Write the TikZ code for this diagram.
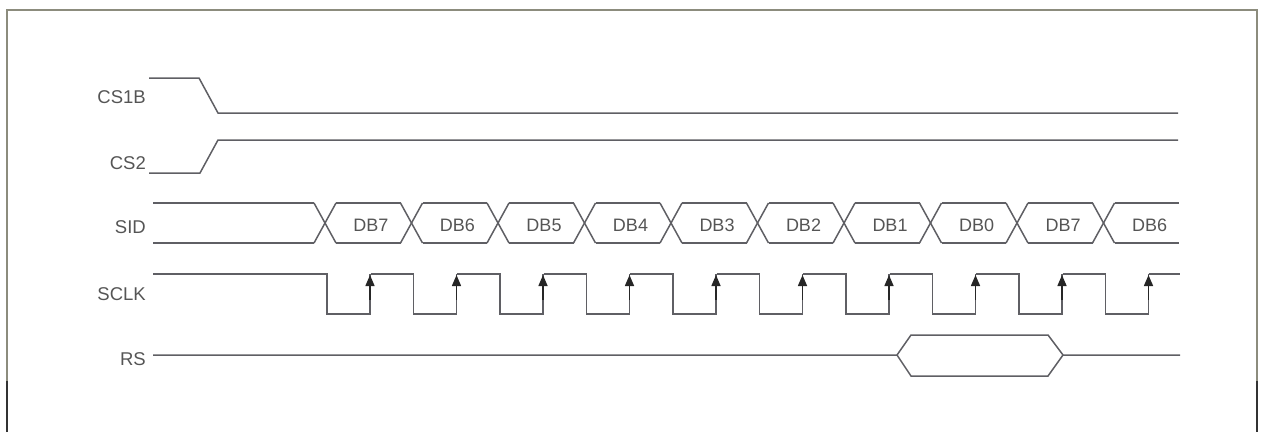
\documentclass[tikz,border=0pt]{standalone}
\usepackage{fontspec}
\setmainfont{Liberation Sans}
\usetikzlibrary{arrows.meta}
\definecolor{sig}{RGB}{95,95,100}
\definecolor{txt}{RGB}{85,85,85}
\definecolor{rahmen}{RGB}{140,140,125}
\tikzset{
	signal/.style={sig, line width=1.5pt, line join=miter},
	signame/.style={anchor=east, text=txt, font=\fontsize{18.5}{18.5}\selectfont, inner sep=0pt},
	bitlabel/.style={text=txt, font=\fontsize{18}{18}\selectfont, inner sep=0pt},
	flanke/.style={-{Triangle[length=11pt,width=9pt]}, black!85}
}

\begin{document}
\begin{tikzpicture}[x=1pt,y=-1pt]
\useasboundingbox (0,0) rectangle (1261,432);
% rahmen
\draw[rahmen, line width=2pt] (7,432) -- (7,10) -- (1257,10) -- (1257,432);
\draw[black!80, line width=2pt] (7,381) -- (7,432);
\draw[black!80, line width=2pt] (1257,381) -- (1257,432);
% namen
\node[signame] (cs1b) at (146,97) {CS1B};
\node[signame] (cs2) at (146,163) {CS2};
\node[signame] (sid) at (146,227) {SID};
\node[signame] (sclk) at (146,294) {SCLK};
\node[signame] (rs) at (146,359) {RS};
% CS1B und CS2
\draw[signal] (149,78) -- (199,78) -- (218,113) -- (1178,113);
\draw[signal] (149,173) -- (200,173) -- (218,140) -- (1178,140);
% SID
\draw[signal] (153,203) -- (314,203);
\draw[signal] (153,243) -- (314,243);
\foreach \i/\bit in {0/DB7,1/DB6,2/DB5,3/DB4,4/DB3,5/DB2,6/DB1,7/DB0,8/DB7,9/DB6}{
	\pgfmathsetmacro\c{325+86.5*\i}
	\draw[signal] (\c-11,203) -- (\c+11,243);
	\draw[signal] (\c-11,243) -- (\c+11,203);
	\draw[signal] (\c+11,203) -- (\c+75.5,203);
	\draw[signal] (\c+11,243) -- (\c+75.5,243);
	\node[bitlabel] (db\i) at (\c+46,225) {\bit};
}
% SCLK
\draw[signal] (153,274) -- (284,274);
\foreach \i in {0,...,9}{
	\pgfmathsetmacro\f{327+86.5*\i}
	\pgfmathsetmacro\r{370+86.5*\i}
	\draw[signal] (\f-43,274) -- (\f,274) -- (\f,314) -- (\r,314) -- (\r,274);
	\draw[signal, flanke] (\r,300) -- (\r,275);
}
\draw[signal] (1148.5,274) -- (1180,274);
% RS
\draw[signal] (153,355) -- (897,355) -- (911,335) -- (1048,335) -- (1063,355) -- (1180,355);
\draw[signal] (897,355) -- (911,376) -- (1048,376) -- (1063,355);
\end{tikzpicture}
\end{document}
